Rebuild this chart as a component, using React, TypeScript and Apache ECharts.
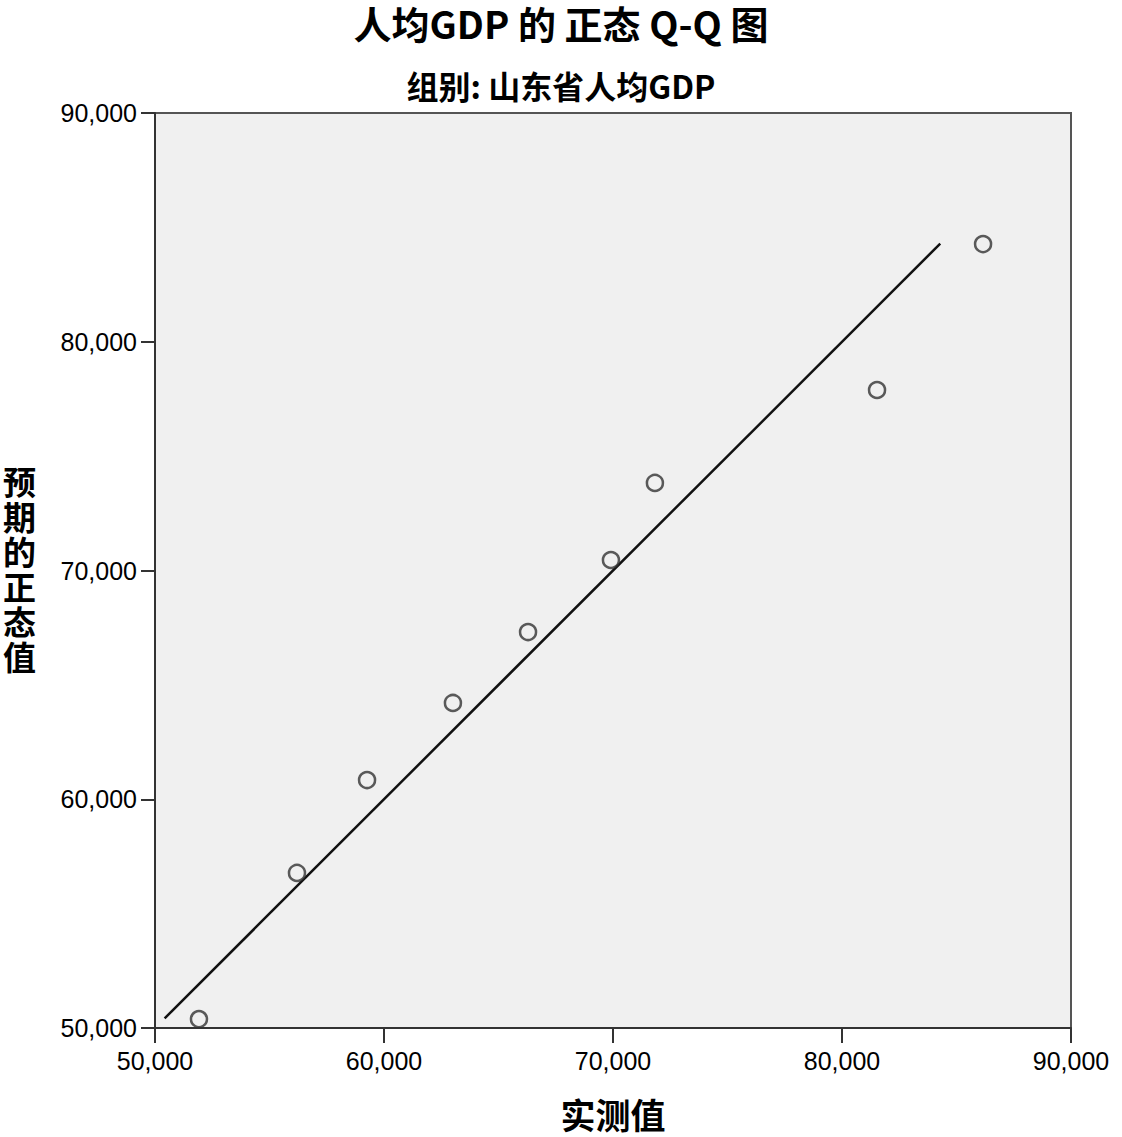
import React, { useEffect, useRef } from "react";
import * as echarts from "echarts";

const titleText = "人均GDP 的 正态 Q-Q 图";
const subtitleText = "组别: 山东省人均GDP";
const xAxisName = "实测值";
const yAxisName = "预期的正态值";

const observed = [51920, 56200, 59260, 63010, 66290, 69910, 71830, 81530, 86160];
const expected = [50390, 56780, 60840, 64210, 67310, 70460, 73830, 77890, 84270];
const refLineX = [50420, 84290];
const refLineY = [50420, 84290];

const axisMin = 50000;
const axisMax = 90000;
const axisStep = 10000;

const fmt = (v: number) => v.toLocaleString("en-US");

export default function App() {
  const ref = useRef<HTMLDivElement>(null);
  useEffect(() => {
    if (!ref.current) return;
    const chart = echarts.init(ref.current, null, { renderer: "svg" });
    const numFont = "'Liberation Sans', Arial, sans-serif";
    const cjkFont = "'Noto Sans CJK SC', sans-serif";
    const yChars = yAxisName.split("");
    const yNameTop = 464;
    const yNameStep = 35;
    chart.setOption({
      animation: false,
      backgroundColor: "#ffffff",
      title: [
        {
          text: titleText,
          left: "center",
          top: 2,
          padding: 0,
          textStyle: {
            fontFamily: cjkFont,
            fontWeight: "bold",
            fontSize: 38,
            lineHeight: 40,
            color: "#000",
          },
        },
        {
          text: subtitleText,
          left: "center",
          top: 68,
          padding: 0,
          textStyle: {
            fontFamily: cjkFont,
            fontWeight: "bold",
            fontSize: 32,
            lineHeight: 34,
            color: "#000",
          },
        },
      ],
      graphic: yChars.map((ch, i) => ({
        type: "text",
        left: 3,
        top: yNameTop + i * yNameStep,
        style: {
          text: ch,
          font: `bold 33px ${cjkFont}`,
          lineHeight: 34,
          fill: "#000",
        },
      })),
      grid: {
        left: 155,
        right: 51,
        top: 113,
        bottom: 109,
        outerBoundsMode: "none",
        containLabel: false,
        show: true,
        backgroundColor: "#f0f0f0",
        borderColor: "#555",
        borderWidth: 2,
      },
      xAxis: {
        type: "value",
        min: axisMin,
        max: axisMax,
        interval: axisStep,
        name: xAxisName,
        nameLocation: "middle",
        nameGap: 67,
        nameTextStyle: {
          fontFamily: cjkFont,
          fontWeight: "bold",
          fontSize: 35,
          lineHeight: 36,
          color: "#000",
        },
        axisLine: { show: true, lineStyle: { color: "#333", width: 2 } },
        axisTick: { show: true, inside: false, length: 15, lineStyle: { color: "#333", width: 2 } },
        axisLabel: {
          formatter: fmt,
          fontFamily: numFont,
          fontSize: 25,
          color: "#000",
          margin: 20,
          showMinLabel: true,
          showMaxLabel: true,
        },
        splitLine: { show: false },
      },
      yAxis: {
        type: "value",
        min: axisMin,
        max: axisMax,
        interval: axisStep,
        axisLine: { show: true, lineStyle: { color: "#333", width: 2 } },
        axisTick: { show: true, inside: false, length: 14, lineStyle: { color: "#333", width: 2 } },
        axisLabel: {
          formatter: fmt,
          fontFamily: numFont,
          fontSize: 25,
          color: "#000",
          margin: 18,
          showMinLabel: true,
          showMaxLabel: true,
        },
        splitLine: { show: false },
      },
      series: [
        {
          type: "line",
          data: refLineX.map((x, i) => [x, refLineY[i]]),
          showSymbol: false,
          symbol: "none",
          lineStyle: { color: "#111", width: 2.5 },
          z: 2,
        },
        {
          type: "scatter",
          data: observed.map((x, i) => [x, expected[i]]),
          symbol: "circle",
          symbolSize: 16,
          itemStyle: { color: "rgba(0,0,0,0)", borderColor: "#333", borderWidth: 2.5 },
          z: 3,
        },
      ],
    });
    return () => chart.dispose();
  }, []);
  return (
    <div
      ref={ref}
      style={{ position: "absolute", left: 0, top: 0, width: 1122, height: 1137 }}
    />
  );
}
